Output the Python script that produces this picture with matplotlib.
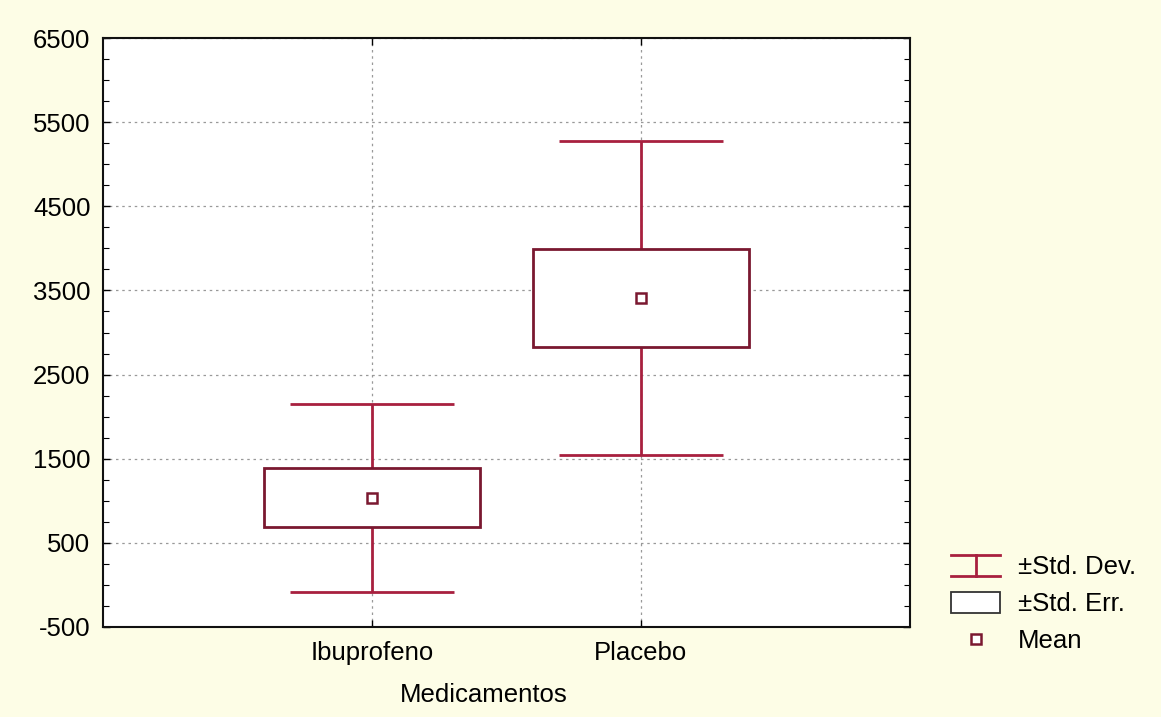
import matplotlib
matplotlib.use("Agg")
from matplotlib import pyplot as plt
from matplotlib.lines import Line2D
from matplotlib.patches import Rectangle
from matplotlib.legend_handler import HandlerBase
from matplotlib.ticker import MultipleLocator

# data
groups = ["Ibuprofeno", "Placebo"]
means = [1035, 3405]
std_err = [350, 582]
std_dev = [1117, 1866]

plt.rcParams['font.family'] = ['Liberation Sans', 'DejaVu Sans']
plt.rcParams['axes.unicode_minus'] = False
FS = 18.5
BG = '#fdfde6'
DARK = '#7a1830'
RED = '#a8203f'


class IBeamHandler(HandlerBase):
    # legend symbol for the +/- std dev whisker
    def create_artists(self, legend, orig_handle, xdescent, ydescent,
                       width, height, fontsize, trans):
        x0, x1 = -xdescent, -xdescent + width
        y0, y1 = -ydescent, -ydescent + height
        xm = (x0 + x1) / 2
        kw = dict(color=RED, lw=2, transform=trans)
        return [Line2D([x0, x1], [y1, y1], **kw),
                Line2D([x0, x1], [y0, y0], **kw),
                Line2D([xm, xm], [y0, y1], **kw)]


fig = plt.figure(figsize=(11.61, 7.17), dpi=100, facecolor=BG)
ax = fig.add_axes([103 / 1161, 1 - 627 / 717, 807 / 1161, 589 / 717])
ax.set_facecolor('white')

xs = [1, 2]
lo_sd = [m - s for m, s in zip(means, std_dev)]
hi_sd = [m + s for m, s in zip(means, std_dev)]
ax.vlines(xs, lo_sd, hi_sd, color=RED, lw=2, zorder=2)
ax.hlines(lo_sd, [x - 0.305 for x in xs], [x + 0.305 for x in xs], color=RED, lw=2, zorder=2)
ax.hlines(hi_sd, [x - 0.305 for x in xs], [x + 0.305 for x in xs], color=RED, lw=2, zorder=2)
ax.bar(xs, [2 * s for s in std_err], bottom=[m - s for m, s in zip(means, std_err)],
       width=0.8, facecolor='white', edgecolor=DARK, lw=2, zorder=3)
ax.plot(xs, means, ls='none', marker='s', ms=7, mfc='white', mec=DARK, mew=1.8, zorder=4)

ax.set_xlim(0, 3)
ax.set_ylim(-500, 6500)
ax.set_xticks(xs)
ax.set_xticklabels(groups)
ax.set_yticks(range(-500, 6501, 1000))
ax.yaxis.set_minor_locator(MultipleLocator(250))
ax.tick_params(which='both', direction='in', top=True, right=True, labelsize=FS)
ax.tick_params(which='major', length=5, width=1)
ax.tick_params(which='minor', length=4, width=0.8)
ax.tick_params(axis='x', pad=10)
ax.tick_params(axis='y', pad=9)
ax.grid(True, which='major', ls=(0, (2, 3)), color='#999999', lw=0.9)
ax.set_axisbelow(True)
for sp in ax.spines.values():
    sp.set_linewidth(1.5)
    sp.set_color('#111111')

ax.set_xlabel("Medicamentos", fontsize=FS)
ax.xaxis.set_label_coords(0.472, -0.095)

handles = [Line2D([], []),
           Rectangle((0, 0), 1, 1, facecolor='white', edgecolor='#333333', lw=1.3),
           Line2D([], [], ls='none', marker='s', ms=7, mfc='white', mec=DARK, mew=1.8)]
labels = ["±Std. Dev.", "±Std. Err.", "Mean"]
ax.legend(handles, labels, loc='upper left', bbox_to_anchor=(928 / 1161, 1 - 532 / 717),
          bbox_transform=fig.transFigure, frameon=False, fontsize=FS,
          handlelength=1.9, handleheight=0.85, handletextpad=0.7, labelspacing=0.5,
          handler_map={handles[0]: IBeamHandler()})

fig.savefig("out.png", dpi=100, facecolor=BG)
